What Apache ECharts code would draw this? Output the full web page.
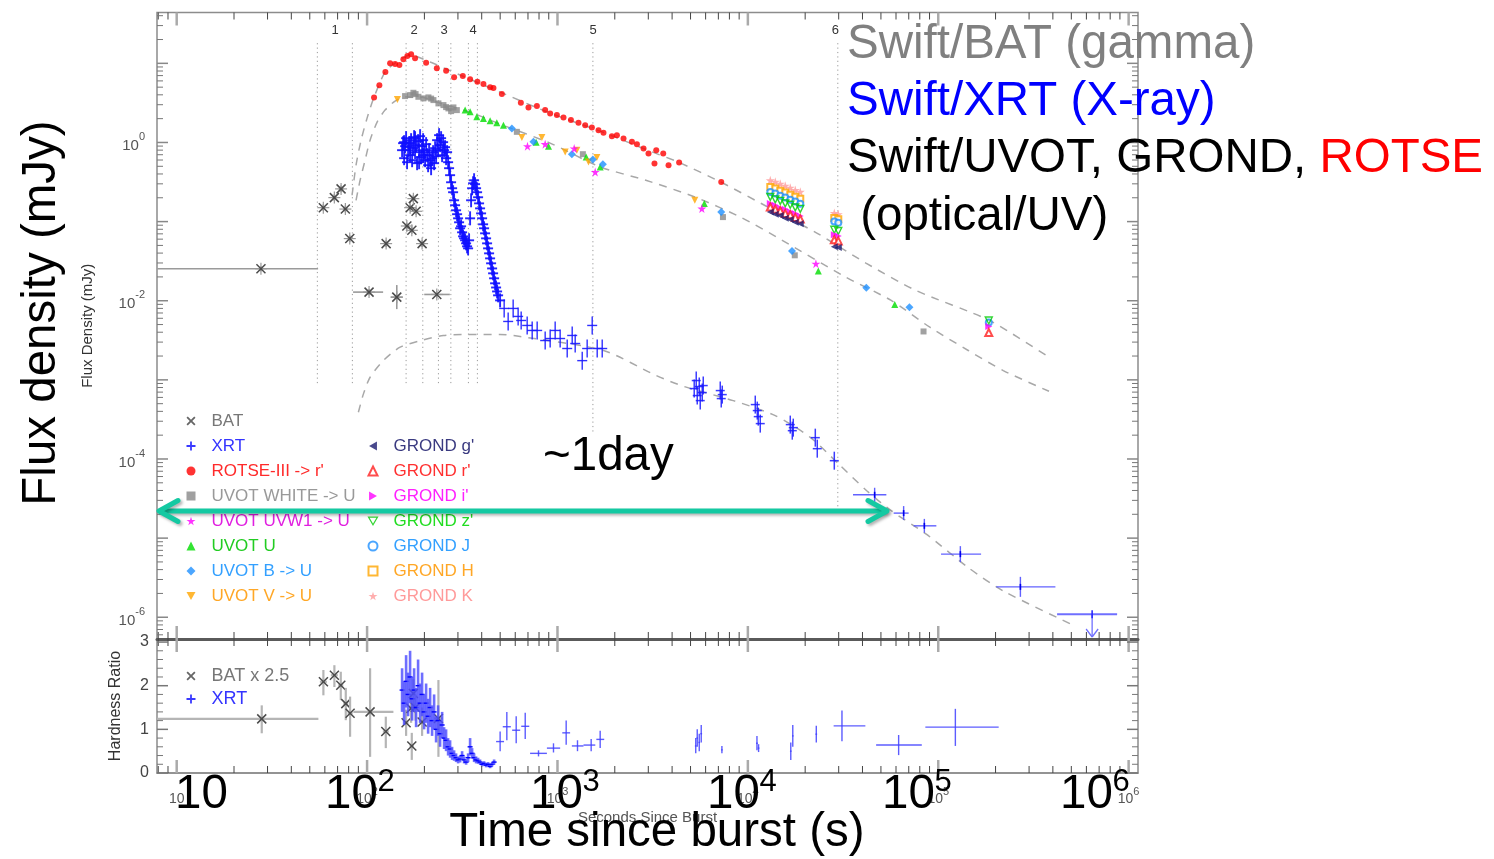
<!DOCTYPE html>
<html><head><meta charset="utf-8">
<script src="https://cdn.jsdelivr.net/npm/echarts@6/dist/echarts.min.js"></script>
<style>html,body{margin:0;padding:0;background:#fff}#c{width:1494px;height:859px}</style>
</head><body><div id="c"></div>
<script>
// ================= DATA =================
// time since burst (s), flux density (mJy)
const batFlux = [[27.7,0.0254],[58.9,0.150],[67.3,0.201],[73.0,0.259],[76.9,0.144],[81.1,0.061],[125.9,0.0527],[161.7,0.088],[168.3,0.150],[171.8,0.0776],[175.0,0.195],[180.9,0.135],[194.5,0.0527],[102.4,0.01285],[143.2,0.0111],[232.3,0.0120]];
const batFluxErr = [[7.9,55.3,0.0236,0.0273],[57.2,60.6,0.136,0.165],[65.4,69.3,0.182,0.222],[70.9,75.2,0.235,0.285],[74.7,79.2,0.131,0.159],[78.8,83.5,0.055,0.067],[122.3,129.6,0.0478,0.0581],[157.1,166.4,0.080,0.097],[163.5,173.2,0.136,0.165],[166.9,176.8,0.0704,0.0855],[170.0,180.1,0.177,0.215],[175.7,186.2,0.122,0.149],[189.0,200.2,0.0478,0.0581],[84.4,121.4,0.0117,0.0141],[133.0,154.0,0.00783,0.01578],[199.6,272.0,0.0109,0.0132]];

const xrtDense = [[152.7,0.799],[154.6,0.980],[156.5,0.633],[156.5,1.009],[158.4,0.898],[160.3,1.133],[162.2,0.563],[164.2,0.799],[166.2,0.980],[168.2,0.691],[168.2,0.872],[170.3,1.069],[172.4,0.597],[174.5,0.847],[176.6,1.167],[178.7,0.754],[178.7,1.133],[180.9,0.924],[183.1,0.547],[185.3,1.039],[187.6,0.799],[187.6,0.563],[189.9,1.201],[192.2,0.652],[194.5,0.898],[196.9,1.069],[196.9,0.691],[199.3,0.754],[201.7,0.597],[204.2,0.952],
[206.7,0.691],[209.2,0.516],[211.7,0.799],[214.3,0.597],[216.9,0.473],[219.5,0.633],[222.2,0.754],[224.9,0.547],[227.6,0.847],[230.4,0.671],
[233.2,1.069],[236.0,0.799],[238.9,1.237],[241.8,0.924],[244.8,1.133],[247.8,0.691],[250.8,1.009],[253.8,0.799],[256.9,0.872],[260.0,0.633],[263.2,0.754],[266.4,0.563],
[269.6,0.473],[272.9,0.386],[276.2,0.314],[279.6,0.264],[283.0,0.235],[286.4,0.186],[289.9,0.161],[293.4,0.139],[297.0,0.124],[300.6,0.110],[304.3,0.0980],[308.0,0.0823],[311.7,0.0872],[315.5,0.0732],[319.3,0.0651],[323.2,0.0614],[327.2,0.0580],[331.2,0.0531],[335.2,0.0487],[339.3,0.0459],
[343.4,0.0580],[347.6,0.110],[351.8,0.186],[356.1,0.264],[360.4,0.305],[364.8,0.333],
[369.2,0.297],[373.7,0.264],[378.3,0.235],[382.9,0.203],[387.5,0.170],[392.2,0.147],[397.0,0.127],[401.9,0.110],[406.8,0.0924],[411.7,0.0823],[416.7,0.0711],[421.8,0.0614],[426.9,0.0531],[432.1,0.0459],[437.4,0.0397],[442.7,0.0343],[448.1,0.0297],[453.6,0.0256],[459.1,0.0222],[464.7,0.0192],[470.3,0.0166],[476.0,0.0147],[481.8,0.0131],[487.7,0.0117],[499.6,0.0101]];
const xrtSparse = [[524.8,0.00799],[550.8,0.00547],[585.1,0.00799],[621.4,0.00633],[644.6,0.00563],[693.2,0.00487],[736.5,0.00421],[782.2,0.00421],[861.8,0.00314],[915.4,0.00333],[972.5,0.00421],[1033,0.00333],[1125,0.00249],[1195,0.00364],[1239,0.00288],[1349,0.00175],[1432,0.00249],[1522,0.00487],[1617,0.00249],[1718,0.00249]];
const xrtMid = [[5227,7.76e-4],[5356,9.80e-4],[5422,6.33e-4],[5555,8.23e-4],[5622,5.47e-4],[5760,6.91e-4],[5830,8.47e-4],[7161,7.32e-4],[7248,5.80e-4],[7337,6.51e-4],[10937,4.87e-4],[11205,4.09e-4],[11340,3.43e-4],[11617,2.80e-4],[16704,2.72e-4],[17113,2.28e-4],[17321,2.49e-4],[22608,1.86e-4],[23154,1.35e-4],[28445,9.52e-5]];
// [t, F, tLo, tHi, FLo, FHi]
const xrtLate = [[46340,3.53e-5,35670,53380,2.88e-5,4.33e-5],[65800,2.07e-5,58320,69900,1.69e-5,2.54e-5],[84530,1.43e-5,74260,97730,1.17e-5,1.75e-5],[130660,6.27e-6,103440,167900,4.97e-6,7.92e-6],[270100,2.42e-6,201990,412500,1.81e-6,3.24e-6]];
// upper limit [t, F, tLo, tHi, arrow tip F]
const xrtUL = [[643100,1.09e-6,421000,870000,5.63e-7]];

const rotse = [[108.8,3.712],[116.0,5.267],[124.8,7.762],[132.1,10.0],[140.3,9.797],[147.8,9.516],[155.1,11.23],[162.8,12.37],[170.3,13.00],[178.7,11.57],[204.2,10.18],[232.4,8.644],[260.1,8.058],[286.5,6.649],[318.3,6.906],[347.6,6.272],[379.7,5.850],[408.4,5.470],[443.0,4.969],[461.1,4.868],[510.4,4.087],[642.2,3.172],[704.1,2.773],[779.6,2.880],[861.6,2.564],[915.3,2.329],[993.0,2.216],[1075.6,2.073],[1176.5,1.916],[1289.4,1.771],[1398.3,1.656],[1516.3,1.549],[1642.6,1.431],[1744.6,1.323],[1931.4,1.201],[2051.7,1.237],[2222.9,1.124],[2460.4,1.018],[2614.5,0.952],[2831.7,0.840],[3007.4,0.726],[3232.5,0.542],[3302.1,0.799],[3593.4,0.726],[3831.3,0.516],[4355.3,0.558],[7248,0.317]];
const uvotWhite = [[158.3,3.856],[168.3,3.970],[175.1,4.245],[179.8,4.087],[186.0,3.778],[197.6,3.606],[210.0,3.712],[217.0,3.585],[223.1,3.431],[237.0,3.116],[251.8,2.967],[260.1,2.798],[267.5,2.694],[276.3,2.490],[284.1,2.773],[296.1,2.564],[611.8,1.362],[1359.9,0.711],[7399,0.114],[17638,0.0375],[83700,0.00409]];
const uvotUVW1 = [[695.7,0.898],[861.6,0.952],[1224.1,0.840],[1578.2,0.424],[5733,0.146],[22770,0.0294]];
const uvotU = [[327.3,2.564],[347.6,2.439],[377.1,2.109],[408.4,2.013],[443.0,1.877],[480.3,1.771],[520.3,1.656],[772.6,1.009],[897.0,0.898],[1415.3,0.657],[1676.4,0.491],[5906,0.169],[23440,0.0237],[59080,0.00898]];
const uvotB = [[576.0,1.504],[747.9,1.018],[1190.5,0.711],[1534.8,0.609],[1732.2,0.531],[7248,0.132],[17051,0.0424],[41900,0.0146],[70590,0.00830]];
const uvotV = [[144.3,3.502],[650.0,1.157],[827.9,1.157],[1097.9,0.760],[1264.7,0.799],[1455.3,0.568],[1610.7,0.646],[5266,0.186]];
const grondK = [[13118,0.333],[13932,0.318],[14799,0.301],[15718,0.284],[16700,0.268],[17742,0.250],[18851,0.238],[28445,0.128],[29854,0.124]];
const grondH = [[13118,0.274],[13932,0.262],[14799,0.246],[15718,0.233],[16700,0.219],[17742,0.206],[18851,0.195],[28445,0.111],[29854,0.107]];
const grondJ = [[13118,0.237],[13932,0.226],[14799,0.212],[15718,0.201],[16700,0.189],[17742,0.179],[18851,0.168],[28445,0.100],[29854,0.097],[184260,0.00531]];
const grondZ = [[13118,0.205],[13932,0.191],[14799,0.183],[15718,0.170],[16700,0.163],[17742,0.151],[18851,0.145],[28445,0.079],[29854,0.076],[184260,0.00563]];
const grondI = [[13118,0.169],[13932,0.161],[14799,0.149],[15718,0.143],[16700,0.133],[17742,0.127],[18851,0.118],[28445,0.068],[29854,0.066],[184260,0.00473]];
const grondR = [[13118,0.153],[13932,0.143],[14799,0.137],[15718,0.127],[16700,0.122],[17742,0.113],[18851,0.108],[28445,0.059],[29854,0.057],[184260,0.00397]];
const grondG = [[13118,0.132],[13932,0.124],[14799,0.119],[15718,0.110],[16700,0.106],[17742,0.098],[18851,0.094],[28445,0.048],[29854,0.047]];

// model curves (dashed)
const modelOptUpper = [[83.4,0.2153],[87.5,0.516],[93.0,1.069],[100.0,2.030],[108.8,3.745],[124.3,7.762],[140.3,10.09],[168.3,12.74],[214.3,10.39],[308.0,7.11],[499.8,4.331],[915.3,2.349],[1676.4,1.390],[3070,0.776],[4361,0.558],[7248,0.314],[12800,0.1517],[23154,0.0711],[41910,0.0297],[76280,0.0135],[185600,0.00563],[381700,0.001932]];
const modelOptLower = [[87.5,0.186],[91.9,0.333],[97.6,0.597],[103.7,1.069],[112.9,1.807],[124.3,2.564],[140.3,3.333],[158.3,3.745],[189.9,3.745],[241.8,3.144],[347.6,2.418],[499.8,1.704],[915.3,0.980],[1676.4,0.491],[2911,0.333],[5266,0.2048],[9123,0.1143],[15160,0.0580],[32660,0.01989],[56620,0.01009],[90780,0.00459],[143800,0.00235],[219600,0.001311],[381700,7.17e-4]];
const modelXrt = [[90.0,3.89e-4],[95.7,6.65e-4],[103.7,1.079e-3],[121.8,1.755e-3],[149.1,2.586e-3],[197.6,3.208e-3],[251.8,3.637e-3],[334.2,3.745e-3],[499.8,3.745e-3],[636.8,3.533e-3],[1744.6,2.35e-3],[3302,1.133e-3],[4633,8.23e-4],[8381,5.47e-4],[13932,3.53e-4],[21280,1.877e-4],[29960,8.65e-5],[42110,3.97e-5],[56620,2.22e-5],[86500,1.124e-5],[143800,4.24e-6],[219600,2.15e-6],[500600,8.15e-7]];

// epoch markers: [time, top flux, bottom flux]
const epochLines = [[54.8,18,8.47e-4],[83.7,18,8.47e-4],[160.3,18,8.47e-4],[196.2,18,8.47e-4],[237.0,18,8.47e-4],[275.4,18,8.47e-4],[340.6,18,8.47e-4],[379.7,18,8.47e-4],[1534.8,18,2.07e-4],[29680,18,2.48e-5]];
const epochLabelTimes = [67.9,176.6,253.9,360.6,1540.8,28800];
const epochLabelTexts = ['1','2','3','4','5','6'];

// hardness ratio: [t, H, tLo, tHi, HLo, HHi]
const batHR = [[27.97,1.24,7.9,55.5,0.91,1.55],[58.95,2.09,56.5,61.5,1.78,2.36],[67.33,2.24,64.5,70.2,1.97,2.47],[72.75,2.01,70.5,75.0,1.67,2.32],[77.28,1.59,75.0,79.6,1.21,1.95],[81.41,1.37,79.0,84.0,0.83,1.75],[103.7,1.40,84.7,137.5,0.37,2.40],[125.4,0.95,121,130,0.57,1.29],[160.3,1.15,156,165,0.85,1.45],[170.3,1.48,166,175,1.15,1.80],[175.1,1.82,171,179,1.50,2.15],[179.4,1.50,175,184,1.20,1.80],[171.7,0.62,167,176,0.30,0.92],[194.5,1.17,188,201,0.85,1.50],[237.0,1.25,225,250,0.37,2.13]];
// [t, H, error]
const xrtHRDense = [[152.7,1.9,0.5],[156.5,1.6,0.5],[160.3,2.1,0.6],[164.2,1.8,0.5],[168.2,2.2,0.6],[172.4,1.7,0.5],[176.6,1.9,0.5],[180.9,1.5,0.45],[185.3,2.0,0.6],[189.9,1.6,0.45],[194.5,1.8,0.5],[199.3,1.4,0.4],[204.2,1.6,0.45],[209.2,1.3,0.4],[214.3,1.5,0.45],[219.5,1.2,0.35],[224.9,1.4,0.4],[230.4,1.0,0.3],[236.0,1.2,0.35],[241.8,0.9,0.3],[247.8,1.1,0.3],[253.8,0.8,0.25],[260.0,0.75,0.25],[266.4,0.6,0.2],[272.9,0.55,0.2],[279.6,0.45,0.15],[286.4,0.4,0.12],[293.4,0.35,0.1],[300.6,0.3,0.08],[308.0,0.32,0.08],[315.5,0.4,0.1],[323.2,0.3,0.08],[331.2,0.25,0.06],[339.3,0.35,0.1],[347.6,0.6,0.2],[356.1,0.45,0.12],[364.8,0.35,0.1],[373.7,0.3,0.08],[382.9,0.28,0.07],[392.2,0.25,0.06],[401.9,0.2,0.05],[411.7,0.22,0.05],[421.8,0.18,0.05],[432.1,0.2,0.05],[442.7,0.15,0.04],[453.6,0.2,0.05],[464.7,0.25,0.06]];
const xrtHRLate = [[499.8,0.72,476,524,0.50,0.95],[542,1.06,516,569,0.75,1.40],[607,0.98,578,637,0.68,1.30],[677,1.07,645,711,0.78,1.38],[795,0.45,718,880,0.38,0.52],[953,0.57,880,1033,0.47,0.68],[1111,0.92,1060,1165,0.65,1.20],[1274,0.62,1190,1370,0.50,0.75],[1503,0.64,1370,1580,0.50,0.78],[1676,0.77,1600,1760,0.57,0.97],[5324,0.62,5270,5380,0.45,0.80],[5422,0.80,5370,5475,0.60,1.00],[5555,0.70,5500,5610,0.50,0.90],[5690,0.90,5630,5750,0.70,1.10],[7306,0.53,7230,7380,0.45,0.62],[11163,0.68,11050,11280,0.52,0.85],[11385,0.57,11270,11500,0.48,0.66],[16805,0.50,16640,16970,0.30,0.70],[17215,0.85,17050,17380,0.60,1.10],[22880,0.89,22650,23110,0.70,1.08],[31210,1.08,28220,41420,0.73,1.43],[61940,0.64,47170,81960,0.41,0.87],[123000,1.05,85550,207700,0.62,1.47]];

// axis ranges and ticks
const X_MIN = 7.88, X_MAX = 1.12e6;
const Y_MIN = 5.31e-7, Y_MAX = 43.9;
const HR_MIN = 0, HR_MAX = 3.07;
const xMajorTicks = [1e1,1e2,1e3,1e4,1e5,1e6];
const yMajorTicks = [1e-6,1e-5,1e-4,1e-3,1e-2,1e-1,1,10];
const hrMajorTicks = [0,1,2,3];
const mantissas = [2,3,4,5,6,7,8,9];
const hrMinorTicks = [0.2,0.4,0.6,0.8,1.2,1.4,1.6,1.8,2.2,2.4,2.6,2.8];

// overlay annotation texts
const bigTickTexts = [['10',''],['10','2'],['10','3'],['10','4'],['10','5'],['10','6']];
const titleLines = ['Swift/BAT (gamma)','Swift/XRT (X-ray)','Swift/UVOT, GROND, ','ROTSE',' (optical/UV)'];

// ================= RENDERING =================
const FONT = '"Liberation Sans", Arial, Helvetica, sans-serif';
const minorOf = (lo, hi, decades) => { const out=[]; decades.forEach(d=>mantissas.forEach(m=>{const v=m*Math.pow(10,d); if(v>lo&&v<hi) out.push(v);})); return out; };
const xMinorTicks = minorOf(X_MIN, X_MAX, [0,1,2,3,4,5,6]);
const yMinorTicks = minorOf(Y_MIN, Y_MAX, [-7,-6,-5,-4,-3,-2,-1,0,1]);

function seg(x1,y1,x2,y2,stroke,lw,op){return {type:'line',shape:{x1,y1,x2,y2},style:{stroke,lineWidth:lw,opacity:op==null?1:op}};}
function expOf(v){const e=Math.log10(v);const k=Math.round(e);return Math.abs(e-k)<1e-6?k:null;}

const PLUS = 'path://M40,0H60V40H100V60H60V100H40V60H0V40H40Z';
const CROSS = 'path://M14,0L50,36L86,0L100,14L64,50L100,86L86,100L50,64L14,100L0,86L36,50L0,14Z';
const STAR = 'path://M50,0L61,35L98,35L68,57L79,91L50,70L21,91L32,57L2,35L39,35Z';
const TRI_DOWN = 'path://M0,0L100,0L50,87Z';
const TRI_LEFT = 'path://M87,0L87,100L0,50Z';
const TRI_RIGHT = 'path://M0,0L0,100L87,50Z';

function plusRender(hw,hh,color,lw,op){return (params,api)=>{const p=api.coord([api.value(0),api.value(1)]);return {type:'group',children:[seg(p[0]-hw,p[1],p[0]+hw,p[1],color,lw,op),seg(p[0],p[1]-hh,p[0],p[1]+hh,color,lw,op)]};};}
function errRender(color,lw,op,mark){return (params,api)=>{const t=api.value(0),f=api.value(1);const p=api.coord([t,f]);const a=api.coord([api.value(2),f]),b=api.coord([api.value(3),f]);const c=api.coord([t,api.value(4)]),d=api.coord([t,api.value(5)]);const ch=[seg(a[0],p[1],b[0],p[1],color,lw,op),seg(p[0],c[1],p[0],d[1],color,lw,op)];if(mark)ch.push(...mark(p));return {type:'group',children:ch};};}
function asterisk(p,col){return [seg(p[0]-4.5,p[1]-4.5,p[0]+4.5,p[1]+4.5,col,1.5),seg(p[0]-4.5,p[1]+4.5,p[0]+4.5,p[1]-4.5,col,1.5)];}

function batFluxRender(params,api){const p=api.coord([api.value(0),api.value(1)]);const e=batFluxErr[params.dataIndex];const ch=[];if(e){const a=api.coord([e[0],api.value(1)]),b=api.coord([e[1],api.value(1)]),c=api.coord([api.value(0),e[2]]),d=api.coord([api.value(0),e[3]]);ch.push(seg(a[0],p[1],b[0],p[1],'#9a9a9a',1.6),seg(p[0],c[1],p[0],d[1],'#9a9a9a',1.6));}ch.push(seg(p[0]-6,p[1],p[0]+6,p[1],'#999',1.2),seg(p[0],p[1]-6,p[0],p[1]+6,'#999',1.2));ch.push(...asterisk(p,'#4a4a4a'));return {type:'group',children:ch};}
function ulRender(params,api){const t=api.value(0),f=api.value(1);const p=api.coord([t,f]);const a=api.coord([api.value(2),f]),b=api.coord([api.value(3),f]);const tip=api.coord([t,api.value(4)]);const col='#6f6fff';return {type:'group',children:[seg(a[0],p[1],b[0],p[1],col,2),seg(p[0],p[1],p[0],tip[1],col,1.3),seg(p[0]-6,tip[1]-8,p[0],tip[1],col,1.3),seg(p[0]+6,tip[1]-8,p[0],tip[1],col,1.3),seg(p[0],p[1]-4,p[0],p[1]+4,'#2020ff',1.5)]};}
function epochRender(params,api){const t=api.value(0);const a=api.coord([t,api.value(1)]),b=api.coord([t,api.value(2)]);return {type:'line',shape:{x1:a[0],y1:a[1],x2:b[0],y2:b[1]},style:{stroke:'#9a9a9a',lineWidth:1,lineDash:[1.2,3.2]}};}
function epochLabelRender(params,api){const p=api.coord([api.value(0),api.value(1)]);return {type:'text',x:p[0],y:p[1]-13,style:{text:epochLabelTexts[params.dataIndex],fill:'#333',font:'13px '+FONT,align:'center',verticalAlign:'middle',textAlign:'center',textVerticalAlign:'middle'}};}
function hrDenseRender(params,api){const t=api.value(0),h=api.value(1),e=api.value(2);const p=api.coord([t,h]),lo=api.coord([t,h-e]),hi=api.coord([t,h+e]);return {type:'group',children:[seg(p[0],lo[1],p[0],hi[1],'#4a4aff',2.6,0.8),seg(p[0]-2.5,p[1],p[0]+2.5,p[1],'#0000ff',1.4)]};}

function xTickRender(len,color,lw){return (params,api)=>{const cs=params.coordSys;const x=api.coord([api.value(0),api.value(1)])[0];return {type:'group',children:[seg(x,cs.y,x,cs.y+len,color,lw),seg(x,cs.y+cs.height,x,cs.y+cs.height-len,color,lw)]};};}
function yTickRender(len,color,lw){return (params,api)=>{const cs=params.coordSys;const y=api.coord([api.value(0),api.value(1)])[1];return {type:'group',children:[seg(cs.x,y,cs.x+len,y,color,lw),seg(cs.x+cs.width,y,cs.x+cs.width-len,y,color,lw)]};};}

const custom = (name,data,render,dims,gi,z) => ({type:'custom',name,data,renderItem:render,xAxisIndex:gi||0,yAxisIndex:gi||0,dimensions:dims||['t','v'],encode:{x:0,y:1},silent:true,z:z||3,animation:false});
const scat = (name,data,symbol,size,itemStyle) => ({type:'scatter',name,data,symbol,symbolSize:size,itemStyle,xAxisIndex:0,yAxisIndex:0,silent:true,z:4,animation:false});
const model = (data) => ({type:'line',name:'model',data,xAxisIndex:0,yAxisIndex:0,showSymbol:false,smooth:0.25,lineStyle:{type:[8,7],color:'#a8a8a8',width:1.5},silent:true,z:1,animation:false});

const D6 = ['t','v','a','b','c','d'];
const series = [
  custom('epochs',epochLines,epochRender,['t','top','bot'],0,1),
  custom('epochLabels',epochLabelTimes.map(t=>[t,18]),epochLabelRender,null,0,1),
  model(modelOptUpper), model(modelOptLower), model(modelXrt),
  custom('BAT',batFlux,batFluxRender),
  custom('XRT',xrtDense,plusRender(5,7,'#1010ff',1.9,0.9)),
  custom('XRT',xrtSparse,plusRender(5,9,'#1a1aff',1.4,0.9)),
  custom('XRT',xrtMid,plusRender(4.5,9,'#1a1aff',1.5,0.85)),
  custom('XRT',xrtLate,errRender('#5050ff',1.4,0.9,p=>[seg(p[0],p[1]-3,p[0],p[1]+3,'#0000ee',1.6)]),D6),
  custom('XRT',xrtUL,ulRender,['t','v','a','b','c']),
  scat("ROTSE-III -> r'",rotse,'circle',6,{color:'#ff0000'}),
  scat('UVOT WHITE -> U',uvotWhite,'rect',6,{color:'#8a8a8a'}),
  scat('UVOT U',uvotU,'triangle',7,{color:'#00dd00'}),
  scat('UVOT V -> U',uvotV,TRI_DOWN,7,{color:'#ffa500'}),
  scat('UVOT B -> U',uvotB,'diamond',8,{color:'#1e90ff'}),
  scat('UVOT UVW1 -> U',uvotUVW1,STAR,9,{color:'#ff00ff'}),
  scat('GROND K',grondK,STAR,9,{color:'#ff9a9a'}),
  scat('GROND H',grondH,'emptyRect',6,{color:'#ffa500',borderWidth:1.2}),
  scat('GROND J',grondJ,'emptyCircle',6,{color:'#1e90ff',borderWidth:1.3}),
  scat("GROND z'",grondZ,TRI_DOWN,7,{color:'rgba(255,255,255,0)',borderColor:'#00cc00',borderWidth:1.4}),
  scat("GROND i'",grondI,TRI_RIGHT,7,{color:'#ff00ff'}),
  scat("GROND r'",grondR,'emptyTriangle',7,{color:'#ff2020',borderWidth:1.3}),
  scat("GROND g'",grondG,TRI_LEFT,7,{color:'#1c1c70'}),
  // hardness panel
  custom('BAT x 2.5',batHR,errRender('#b5b5b5',2.2,1,p=>asterisk(p,'#4a4a4a')),D6,1),
  custom('XRT',xrtHRDense,hrDenseRender,['t','v','e'],1),
  custom('XRT',xrtHRLate,errRender('#4040ff',1.4,0.85),D6,1),
  // axis tick marks drawn inside the frame through the axes' scales
  custom('ticks',xMinorTicks.map(v=>[v,1]),xTickRender(7,'#444',1),null,0,6),
  custom('ticks',xMajorTicks.map(v=>[v,1]),xTickRender(13,'#aaa',2.5),null,0,6),
  custom('ticks',xMinorTicks.map(v=>[v,1]),xTickRender(7,'#444',1),null,1,6),
  custom('ticks',xMajorTicks.map(v=>[v,1]),xTickRender(13,'#aaa',2.5),null,1,6),
  custom('ticks',yMinorTicks.map(v=>[100,v]),yTickRender(6,'#777',1),null,0,6),
  custom('ticks',yMajorTicks.map(v=>[100,v]),yTickRender(11,'#888',1.5),null,0,6),
  custom('ticks',hrMinorTicks.map(v=>[100,v]),yTickRender(6,'#777',1),null,1,6),
  custom('ticks',hrMajorTicks.map(v=>[100,v]),yTickRender(11,'#777',1.5),null,1,6)
];

const legendItem = (name,icon,color,text,extra) => ({name,icon,itemStyle:Object.assign({color},extra||{}),textStyle:{color:text}});
const legendBase = {orient:'vertical',itemWidth:9,itemHeight:9,itemGap:8,selectedMode:false,padding:0,textStyle:{fontSize:17,fontFamily:FONT,lineHeight:17,padding:[0,0,0,11]}};

const option = {
  animation:false,
  backgroundColor:'#ffffff',
  grid:[
    {left:157,top:12.5,width:981,height:626.5,show:true,borderColor:'#8c8c8c',borderWidth:1.5,backgroundColor:'transparent',containLabel:false},
    {left:157,top:639,width:981,height:134,show:true,borderColor:'#8c8c8c',borderWidth:1.5,backgroundColor:'transparent',containLabel:false}
  ],
  xAxis:[
    {type:'log',gridIndex:0,min:X_MIN,max:X_MAX,axisLine:{show:true,onZero:false,lineStyle:{color:'#5a5a5a',width:3}},axisTick:{show:false},axisLabel:{show:false},splitLine:{show:false}},
    {type:'log',gridIndex:1,min:X_MIN,max:X_MAX,axisLine:{show:true,onZero:false,lineStyle:{color:'#8c8c8c',width:1.5}},axisTick:{show:false},splitLine:{show:false},
     axisLabel:{interval:0,margin:13,formatter:v=>{const k=expOf(v);if(k===null)return '';return k===1?'{b|10}':'{b|10}{s|'+k+'}';},
       rich:{b:{fontSize:14,color:'#555',fontFamily:FONT,verticalAlign:'bottom',padding:[6,0,0,0]},s:{fontSize:11,color:'#555',fontFamily:FONT,verticalAlign:'top'}}},
     name:'Seconds Since Burst',nameLocation:'middle',nameGap:37,nameTextStyle:{fontSize:15,color:'#555',fontFamily:FONT}}
  ],
  yAxis:[
    {type:'log',gridIndex:0,min:Y_MIN,max:Y_MAX,axisLine:{show:false},axisTick:{show:false},splitLine:{show:false},
     axisLabel:{interval:0,margin:12,formatter:v=>{const k=expOf(v);if(k===null||k%2!==0)return '';return '{b|10}{s|'+k+'}';},
       rich:{b:{fontSize:15,color:'#555',fontFamily:FONT,verticalAlign:'bottom',padding:[7,0,0,0]},s:{fontSize:11,color:'#555',fontFamily:FONT,verticalAlign:'top'}}},
     name:'Flux Density (mJy)',nameLocation:'middle',nameGap:62,nameTextStyle:{fontSize:15,color:'#333',fontFamily:FONT}},
    {type:'value',gridIndex:1,min:HR_MIN,max:HR_MAX,interval:1,axisLine:{show:false},axisTick:{show:false},splitLine:{show:false},
     axisLabel:{interval:0,margin:8,fontSize:16,color:'#444',fontFamily:FONT,formatter:v=>Number.isInteger(v)?String(v):''},
     name:'Hardness Ratio',nameLocation:'middle',nameGap:33,nameTextStyle:{fontSize:16,color:'#333',fontFamily:FONT}}
  ],
  legend:[
    Object.assign({},legendBase,{left:186.5,top:412.5,data:[
      legendItem('BAT',CROSS,'#666','#777'),
      legendItem('XRT',PLUS,'#3a3aff','#3434ff'),
      legendItem("ROTSE-III -> r'",'circle','#ff0000','#ff2a2a'),
      legendItem('UVOT WHITE -> U','rect','#888','#999'),
      legendItem('UVOT UVW1 -> U',STAR,'#ff00ff','#e020e0'),
      legendItem('UVOT U','triangle','#00dd00','#22cc22'),
      legendItem('UVOT B -> U','diamond','#1e90ff','#33a0ff'),
      legendItem('UVOT V -> U',TRI_DOWN,'#ffa500','#ffa726')]}),
    Object.assign({},legendBase,{left:367.5,top:437.5,data:[
      legendItem("GROND g'",TRI_LEFT,'#1c1c70','#3a3a80'),
      legendItem("GROND r'",'emptyTriangle','#ff2020','#ff3030',{borderColor:'#ff2020',borderWidth:1.2}),
      legendItem("GROND i'",TRI_RIGHT,'#ff00ff','#ff20ff'),
      legendItem("GROND z'",TRI_DOWN,'rgba(255,255,255,0)','#22dd22',{borderColor:'#00cc00',borderWidth:1.2}),
      legendItem('GROND J','emptyCircle','#1e90ff','#33a0ff',{borderColor:'#1e90ff',borderWidth:1.2}),
      legendItem('GROND H','emptyRect','#ffa500','#ffa726',{borderColor:'#ffa500',borderWidth:1.2}),
      legendItem('GROND K',STAR,'#ff9a9a','#ff9a9a')]}),
    Object.assign({},legendBase,{left:186.5,top:667,itemGap:5,textStyle:{fontSize:18,fontFamily:FONT,lineHeight:18,padding:[0,0,0,11]},data:[
      legendItem('BAT x 2.5',CROSS,'#666','#777'),
      legendItem('XRT',PLUS,'#3a3aff','#3434ff')]})
  ],
  series,
  graphic:{elements:[]}
};

// ---------- overlay annotations (large text + arrow) ----------
const big = '47.5px '+FONT;
const g = option.graphic.elements;
g.push({type:'text',x:41.5,y:313,rotation:Math.PI/2,z:100,style:{text:'Flux density (mJy)',fill:'#000',font:big,align:'center',verticalAlign:'middle'}});
g.push({type:'text',x:657,y:833,z:100,style:{text:'Time since burst (s)',fill:'#000',font:big,align:'center',verticalAlign:'middle'}});
g.push({type:'text',x:543,y:457,z:100,style:{text:'~1day',fill:'#000',font:big,align:'left',verticalAlign:'middle'}});
const bigTickX = [175,325,530,707,882,1060];
bigTickTexts.forEach((tx,i)=>{
  g.push({type:'text',x:bigTickX[i],y:795,z:100,style:{text:tx[0],fill:'#000',font:big,align:'left',verticalAlign:'middle'}});
  if(tx[1]) g.push({type:'text',x:bigTickX[i]+52.5,y:782,z:100,style:{text:tx[1],fill:'#000',font:'31px '+FONT,align:'left',verticalAlign:'middle'}});
});
g.push({type:'text',x:847,y:44.5,z:100,style:{text:titleLines[0],fill:'#808080',font:big,align:'left',verticalAlign:'middle'}});
g.push({type:'text',x:847,y:101.5,z:100,style:{text:titleLines[1],fill:'#0000ff',font:big,align:'left',verticalAlign:'middle'}});
g.push({type:'text',x:847,y:158.5,z:100,style:{text:'{k|'+titleLines[2]+'}{r|'+titleLines[3]+'}',font:big,align:'left',verticalAlign:'middle',rich:{k:{fill:'#000',font:big},r:{fill:'#ff0000',font:big}}}});
g.push({type:'text',x:847,y:216.5,z:100,style:{text:titleLines[4],fill:'#000',font:big,align:'left',verticalAlign:'middle'}});
const TEAL = '#14c9a2';
const arrowStyle = {stroke:TEAL,lineWidth:5,fill:null,lineJoin:'round',lineCap:'round',shadowBlur:3,shadowOffsetX:2,shadowOffsetY:2,shadowColor:'rgba(0,0,0,0.3)'};
g.push({type:'polyline',z:99,shape:{points:[[162,511],[884,511]]},style:arrowStyle});
g.push({type:'polyline',z:99,shape:{points:[[178,500.5],[159,511],[178,521.5]]},style:arrowStyle});
g.push({type:'polyline',z:99,shape:{points:[[868,500.5],[887,511],[868,521.5]]},style:arrowStyle});

const chart = echarts.init(document.getElementById('c'),null,{renderer:'canvas'});
chart.setOption(option);
</script>
</body></html>
